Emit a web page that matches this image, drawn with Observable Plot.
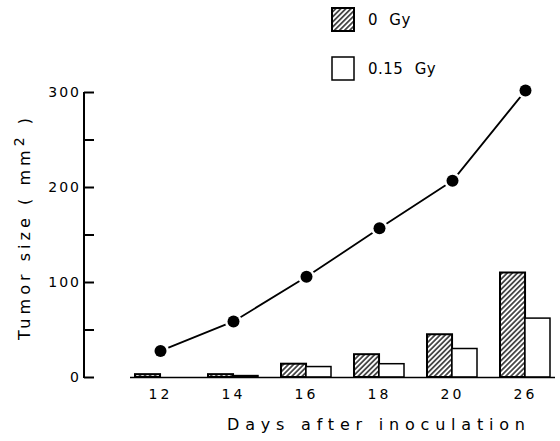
<!DOCTYPE html>
<html>
<head>
<meta charset="utf-8">
<script src="https://cdn.jsdelivr.net/npm/d3@7"></script>
<script src="https://cdn.jsdelivr.net/npm/@observablehq/plot@0.6"></script>
<style>
  body { margin: 0; background: #fff; }
  #chart { position: relative; width: 560px; height: 441px; font-family: "DejaVu Sans", sans-serif; color: #000; }
  #legend { position: absolute; left: 331px; top: 7px; }
  .item { display: flex; align-items: center; height: 25px; margin-bottom: 24px; font-size: 15px; letter-spacing: 0.5px; word-spacing: 6px; white-space: pre; }
  .item svg { margin-right: 12px; display: block; }
  g[aria-label="y-axis tick label"] text { letter-spacing: 2px; }
  g[aria-label="x-axis tick label"] text { letter-spacing: 3px; }
</style>
</head>
<body>
<div id="chart"><div id="legend"></div></div>
<script>
// Days after inoculation
const days = ["12", "14", "16", "18", "20", "26"];
// Bar series (tumor size, mm²)
const series = ["0 Gy", "0.15 Gy"];
const size0Gy = [3, 3, 14, 24, 45, 110];
const size015Gy = [0, 1.5, 11, 14, 30, 62];
// Curve with filled dots (tumor size, mm²)
const curveSize = [28, 59, 106, 157, 207, 302];
// Y axis ticks
const yTicks = [0, 50, 100, 150, 200, 250, 300];
const yLabeled = [0, 100, 200, 300];
const xLabel = "Days after inoculation";
const yLabel = "Tumor size ( mm2 )";

const W = 560, H = 441, mL = 130, mR = 5, mT = 92, mB = 64;
const padIn = 0.32, padOut = 0.055;
const step = (W - mL - mR) / (days.length - padIn + 2 * padOut);
const half = step * (1 - padIn) / 2;
const axisShift = -46; // y axis sits left of the bar area

const rows = days.map((d, i) => ({day: d, a: size0Gy[i], b: size015Gy[i], c: curveSize[i]}));

// vertical axis line drawn from the y scale
const yAxisLine = (index, scales) => {
  const x0 = mL + axisShift;
  return d3.create("svg:line")
    .attr("x1", x0).attr("x2", x0)
    .attr("y1", scales.y(0) + 1).attr("y2", scales.y(300))
    .attr("stroke", "black").attr("stroke-width", 2)
    .node();
};

const plot = Plot.plot({
  width: W, height: H,
  marginLeft: mL, marginRight: mR, marginTop: mT, marginBottom: mB,
  style: {fontFamily: "DejaVu Sans", fontSize: "14px", color: "black", background: "white"},
  x: {type: "band", domain: days, paddingInner: padIn, paddingOuter: padOut},
  y: {domain: [0, 300]},
  marks: [
    Plot.barY(rows, {x: "day", y: "a", insetRight: half, fill: "url(#hatch)", stroke: "black", strokeWidth: 2}),
    Plot.barY(rows, {x: "day", y: "b", insetLeft: half, fill: "white", stroke: "black", strokeWidth: 1.5}),
    Plot.ruleY([0], {strokeWidth: 1.5}),
    Plot.line(rows, {x: "day", y: "c", strokeWidth: 1.8}),
    Plot.dot(rows, {x: "day", y: "c", r: 8.5, fill: "white"}),
    Plot.dot(rows, {x: "day", y: "c", r: 6, fill: "black"}),
    Plot.axisX({tickSize: 0, tickPadding: 12, label: null}),
    Plot.axisY({ticks: yTicks, tickSize: -10, tickPadding: 13.5, dx: axisShift, strokeWidth: 2,
      tickFormat: d => yLabeled.includes(d) ? String(d) : "", label: null}),
    yAxisLine,
    Plot.text([xLabel], {frameAnchor: "bottom", dy: 47, dx: 33, fontSize: 16, textAnchor: "middle", lineAnchor: "middle"}),
    Plot.text([yLabel], {frameAnchor: "left", dx: -106, dy: -6, rotate: -90, fontSize: 16, textAnchor: "middle", lineAnchor: "middle"})
  ]
});

// diagonal hatch fill
const svg = d3.select(plot);
const pat = svg.insert("defs", ":first-child").append("pattern")
  .attr("id", "hatch").attr("patternUnits", "userSpaceOnUse")
  .attr("width", 3.6).attr("height", 3.6).attr("patternTransform", "rotate(45)");
pat.append("rect").attr("width", 3.6).attr("height", 3.6).attr("fill", "white");
pat.append("line").attr("x1", 0.9).attr("x2", 0.9).attr("y1", 0).attr("y2", 3.6)
  .attr("stroke", "black").attr("stroke-width", 1.3);

// widely spaced axis titles
svg.selectAll("text").filter(function() { return this.textContent === xLabel; })
  .attr("textLength", 298).attr("lengthAdjust", "spacing");
svg.selectAll("text").filter(function() { return this.textContent === yLabel; })
  .each(function() {
    // raise the exponent in "mm2"
    const t = d3.select(this).text(null);
    t.append("tspan").text("Tumor size ( mm");
    t.append("tspan").attr("dy", "-0.4em").attr("font-size", 14).text("2");
    t.append("tspan").attr("dy", "0.4em").text(" )");
  })
  .attr("textLength", 222).attr("lengthAdjust", "spacing");

document.getElementById("chart").prepend(plot);

// legend
const legend = d3.select("#legend");
series.forEach((name, i) => {
  const item = legend.append("div").attr("class", "item");
  const sw = item.append("svg").attr("width", 25).attr("height", 25);
  sw.append("rect").attr("x", 1).attr("y", 1).attr("width", 22).attr("height", 23)
    .attr("fill", i === 0 ? "url(#hatch)" : "white")
    .attr("stroke", "black").attr("stroke-width", i === 0 ? 2 : 1.5);
  item.append("span").text(name);
});
</script>
</body>
</html>
